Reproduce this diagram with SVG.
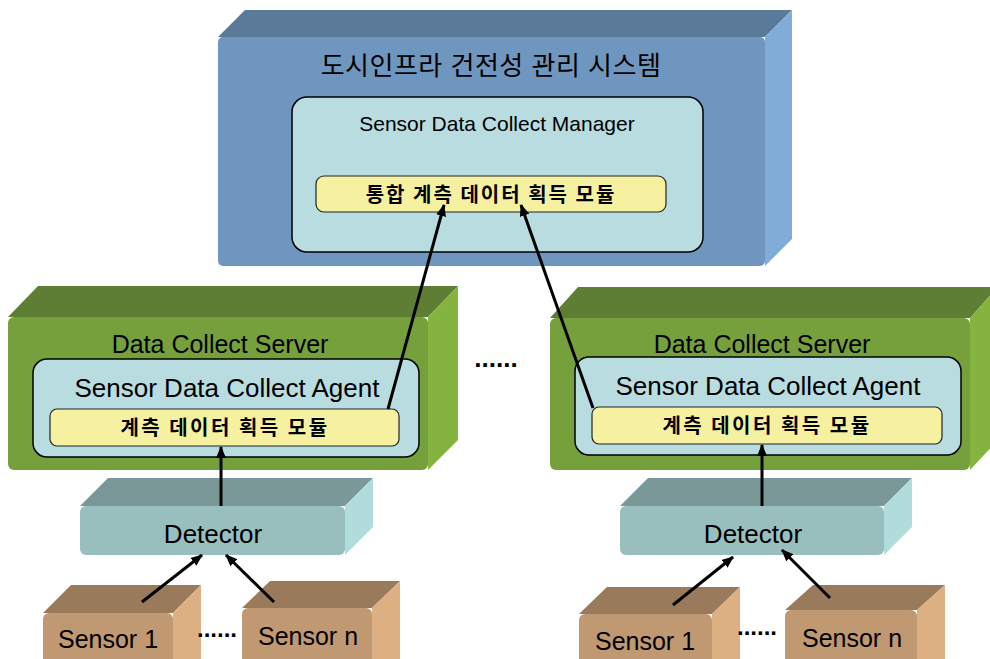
<svg xmlns="http://www.w3.org/2000/svg" width="990" height="659" viewBox="0 0 990 659">
<defs>
<marker id="ah" viewBox="0 0 12 10" refX="11" refY="5" markerWidth="12" markerHeight="10" markerUnits="userSpaceOnUse" orient="auto">
<path d="M0,0 L12,5 L0,10 Z" fill="#000"/>
</marker>
</defs>
<style>
text{font-family:"Liberation Sans","Noto Sans CJK KR",sans-serif;fill:#000;text-anchor:middle}
.kr{font-family:"Noto Sans CJK KR","Liberation Sans",sans-serif;font-weight:bold}
.inner{fill:#B8DCE0;stroke:#000;stroke-width:1.5}
.mod{fill:#F5F1A0;stroke:#222;stroke-width:1.2}
.bf{fill:#6F96BE}.bt{fill:#5B7A99}.br{fill:#82ACD8}
.gf{fill:#76A03B}.gt{fill:#5E7F33}.gr{fill:#84B43F}
.df{fill:#98BEBE}.dt{fill:#7A9898}.dr{fill:#B2DCDC}
.sf{fill:#C09872}.st{fill:#997A5B}.sr{fill:#DDB084}
.conn{stroke:#000;stroke-width:3;fill:none;marker-end:url(#ah)}
</style>
<rect width="990" height="659" fill="#fff"/>

<g id="system">
<polygon class="bt" points="218,37 245,10 792,10 765,37"/>
<polygon class="br" points="765,37 792,10 792,239 765,266"/>
<rect class="bf" x="218" y="37" width="547" height="229" rx="5"/>
<text x="491" y="75" font-size="26" letter-spacing="0.5">도시인프라 건전성 관리 시스템</text>
<g id="manager">
<rect class="inner" x="292" y="97" width="411" height="155" rx="15"/>
<text x="497" y="131" font-size="21">Sensor Data Collect Manager</text>
</g>
<g id="integrated-module">
<rect class="mod" x="316" y="176" width="350" height="36" rx="8"/>
<text class="kr" x="491" y="202" font-size="20" letter-spacing="2">통합 계측 데이터 획득 모듈</text>
</g>
</g>

<g id="server-left">
<polygon class="gt" points="8,317 38,286 458,286 428,317"/>
<polygon class="gr" points="428,317 458,286 458,440 428,470"/>
<rect class="gf" x="8" y="317" width="420" height="153" rx="6"/>
<text x="220" y="353" font-size="25">Data Collect Server</text>
<g id="agent-left">
<rect class="inner" x="33" y="359" width="386" height="98" rx="14"/>
<text x="227" y="397" font-size="26">Sensor Data Collect Agent</text>
<rect class="mod" x="50" y="409" width="349" height="37" rx="7"/>
<text class="kr" x="225" y="435" font-size="20" letter-spacing="2.5">계측 데이터 획득 모듈</text>
</g>
</g>

<g id="server-right">
<polygon class="gt" points="550,318 578,287 998,287 970,318"/>
<polygon class="gr" points="970,318 998,287 998,440 970,470"/>
<rect class="gf" x="550" y="318" width="420" height="152" rx="6"/>
<text x="762" y="353" font-size="25">Data Collect Server</text>
<g id="agent-right">
<rect class="inner" x="575" y="357" width="386" height="98" rx="14"/>
<text x="768" y="395" font-size="26">Sensor Data Collect Agent</text>
<rect class="mod" x="592" y="407" width="350" height="37" rx="7"/>
<text class="kr" x="767" y="433" font-size="20" letter-spacing="2.5">계측 데이터 획득 모듈</text>
</g>
</g>

<text x="496" y="367" font-size="26" font-weight="bold">......</text>

<g id="detector-left">
<polygon class="dt" points="80,506 108,478 373,478 345,506"/>
<polygon class="dr" points="345,506 373,478 373,527 345,555"/>
<rect class="df" x="80" y="506" width="265" height="49" rx="6"/>
<text x="213" y="543" font-size="26">Detector</text>
</g>
<g id="detector-right">
<polygon class="dt" points="620,506 648,478 912,478 884,506"/>
<polygon class="dr" points="884,506 912,478 912,527 884,555"/>
<rect class="df" x="620" y="506" width="264" height="49" rx="6"/>
<text x="753" y="543" font-size="26">Detector</text>
</g>

<g id="sensor1-left">
<polygon class="st" points="43,613 71,585 201,585 173,613"/>
<polygon class="sr" points="173,613 201,585 201,670 173,670"/>
<rect class="sf" x="43" y="613" width="130" height="60" rx="6"/>
<text x="108" y="648" font-size="25">Sensor 1</text>
</g>
<g id="sensorn-left">
<polygon class="st" points="242,608 270,581 400,581 372,608"/>
<polygon class="sr" points="372,608 400,581 400,670 372,670"/>
<rect class="sf" x="242" y="608" width="130" height="60" rx="6"/>
<text x="308" y="645" font-size="25">Sensor n</text>
</g>
<g id="sensor1-right">
<polygon class="st" points="579,614 607,587 740,587 712,614"/>
<polygon class="sr" points="712,614 740,587 740,670 712,670"/>
<rect class="sf" x="579" y="614" width="133" height="60" rx="6"/>
<text x="645" y="650" font-size="25">Sensor 1</text>
</g>
<g id="sensorn-right">
<polygon class="st" points="785,610 813,585 945,585 917,610"/>
<polygon class="sr" points="917,610 945,585 945,670 917,670"/>
<rect class="sf" x="785" y="610" width="132" height="60" rx="6"/>
<text x="852" y="647" font-size="25">Sensor n</text>
</g>

<text x="217" y="637" font-size="24" font-weight="bold">......</text>
<text x="757" y="635" font-size="24" font-weight="bold">......</text>

<g id="connectors">
<line class="conn" x1="388" y1="409" x2="444" y2="205"/>
<line class="conn" x1="593" y1="408" x2="521" y2="205"/>
<line class="conn" x1="221" y1="506" x2="221" y2="447"/>
<line class="conn" x1="762" y1="506" x2="762" y2="445"/>
<line class="conn" x1="142" y1="602" x2="202" y2="555"/>
<line class="conn" x1="274" y1="602" x2="226" y2="555"/>
<line class="conn" x1="673" y1="605" x2="733" y2="557"/>
<line class="conn" x1="830" y1="598" x2="782" y2="550"/>
</g>
</svg>
